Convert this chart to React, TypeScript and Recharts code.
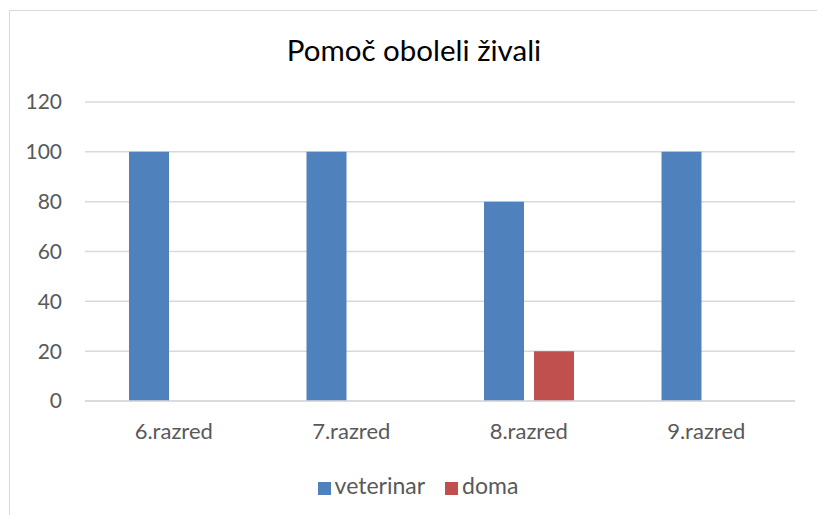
import { BarChart, Bar, XAxis, YAxis, CartesianGrid, Legend } from "recharts";

const categories = ["6.razred", "7.razred", "8.razred", "9.razred"];
const seriesNames = ["veterinar", "doma"];
const veterinar = [100, 100, 80, 100];
const doma = [0, 0, 20, 0];
const yTicks = [0, 20, 40, 60, 80, 100, 120];

const data = categories.map((name, i) => ({
  name,
  veterinar: veterinar[i],
  doma: doma[i],
}));

const FONT = "Lato, 'Open Sans', sans-serif";
const GRAY = "#595959";

export default function App() {
  return (
    <div
      style={{
        position: "absolute",
        left: 9,
        top: 10,
        width: 820,
        height: 520,
        border: "1px solid #d9d9d9",
        background: "#fff",
        fontFamily: FONT,
      }}
    >
      <div
        style={{
          position: "absolute",
          left: 0,
          width: 808,
          top: 21,
          textAlign: "center",
          fontSize: 29.5,
          color: "#000",
        }}
      >
        Pomoč oboleli živali
      </div>
      <div style={{ position: "absolute", left: 0, top: 0 }}>
        <BarChart
          width={808}
          height={505}
          data={data}
          margin={{ top: 91, right: 23, bottom: 0, left: 0 }}
          barSize={40}
          barGap={10}
        >
          <CartesianGrid vertical={false} stroke="#d9d9d9" strokeWidth={1.5} />
          <XAxis
            dataKey="name"
            height={72}
            axisLine={{ stroke: "#d9d9d9", strokeWidth: 1.5 }}
            tickLine={false}
            tickSize={0}
            tickMargin={22}
            tick={{ fill: GRAY, fontSize: 22, fontFamily: FONT }}
          />
          <YAxis
            width={75}
            domain={[0, 120]}
            ticks={yTicks}
            axisLine={false}
            tickLine={false}
            tickSize={0}
            tickMargin={23}
            tick={{ fill: GRAY, fontSize: 21, fontFamily: FONT }}
          />
          <Legend
            verticalAlign="bottom"
            height={43}
            iconType="square"
            iconSize={13}
            itemSorter={(item: any) => seriesNames.indexOf(item.value)}
            wrapperStyle={{
              fontSize: 23,
              fontFamily: FONT,
              lineHeight: "24px",
              left: 14,
              width: 808,
            }}
            formatter={(value: string) => (
              <span style={{ color: GRAY, paddingRight: 10 }}>{value}</span>
            )}
          />
          <Bar dataKey="veterinar" fill="#4F81BD" isAnimationActive={false} />
          <Bar dataKey="doma" fill="#C0504D" isAnimationActive={false} />
        </BarChart>
      </div>
    </div>
  );
}
